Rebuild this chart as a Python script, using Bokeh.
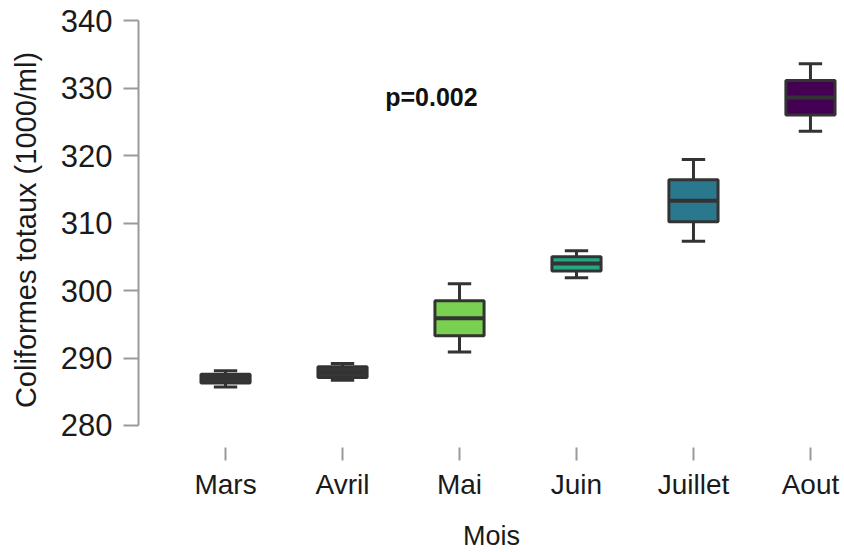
import numpy as np
from bokeh.plotting import figure
from bokeh.models import Range1d, FixedTicker, Label, ColumnDataSource
from bokeh.embed import file_html
from bokeh.resources import INLINE

# ---- data ----
months = ["Mars", "Avril", "Mai", "Juin", "Juillet", "Aout"]
vmin = [285.7, 286.7, 290.9, 301.9, 307.3, 323.6]
q1 = [286.3, 287.1, 293.3, 302.9, 310.2, 326.0]
median = [287.0, 287.9, 295.9, 304.0, 313.3, 328.6]
q3 = [287.6, 288.7, 298.5, 305.0, 316.4, 331.1]
vmax = [288.1, 289.2, 301.0, 305.9, 319.4, 333.6]
colors = ["#383838", "#383838", "#7AD151", "#22A884", "#2A788E", "#440154"]
y_ticks = [280, 290, 300, 310, 320, 330, 340]
p_text = "p=0.002"

FONT = "Liberation Sans"
EDGE = "#333333"
AXIS_GRAY = "#9a9a9a"
TEXT = "#1a1a1a"

xs = np.arange(len(months))
box_w = 0.42
cap_w = 0.2

src = ColumnDataSource(dict(
    x=xs, q1=q1, q3=q3, med=median, lo=vmin, hi=vmax, color=colors,
    bx0=xs - box_w / 2, bx1=xs + box_w / 2,
    cx0=xs - cap_w / 2, cx1=xs + cap_w / 2,
))

p = figure(frame_width=706, frame_height=435, output_backend="svg", toolbar_location=None,
           x_range=Range1d(-0.744, 5.291), y_range=Range1d(276.74, 341.19),
           min_border_left=138, min_border_right=0, min_border_top=12,
           min_border_bottom=105)
p.outline_line_color = None
p.xgrid.visible = False
p.ygrid.visible = False
p.background_fill_color = "white"

LW = 3
# whiskers
p.segment(x0="x", y0="q3", x1="x", y1="hi", source=src, line_color=EDGE, line_width=LW)
p.segment(x0="x", y0="lo", x1="x", y1="q1", source=src, line_color=EDGE, line_width=LW)
# caps
p.segment(x0="cx0", y0="hi", x1="cx1", y1="hi", source=src, line_color=EDGE, line_width=LW)
p.segment(x0="cx0", y0="lo", x1="cx1", y1="lo", source=src, line_color=EDGE, line_width=LW)
# boxes
p.vbar(x="x", width=box_w, bottom="q1", top="q3", source=src,
       fill_color="color", line_color=EDGE, line_width=LW)
# medians
p.segment(x0="bx0", y0="med", x1="bx1", y1="med", source=src, line_color=EDGE, line_width=4)

# p-value annotation
p.add_layout(Label(x=1.76, y=328.7, text=p_text, text_align="center",
                   text_baseline="middle", text_font=FONT, text_font_style="bold",
                   text_font_size="25px", text_color="#111111"))

# y axis
ya = p.yaxis[0]
ya.ticker = FixedTicker(ticks=y_ticks)
ya.bounds = (280, 340)
ya.axis_line_color = AXIS_GRAY
ya.axis_line_width = 2
ya.major_tick_line_color = AXIS_GRAY
ya.major_tick_line_width = 2
ya.major_tick_out = 15
ya.major_tick_in = 0
ya.minor_tick_line_color = None
ya.major_label_standoff = 11
ya.major_label_text_font = FONT
ya.major_label_text_font_size = "31px"
ya.major_label_text_color = TEXT
ya.axis_label = "Coliformes totaux (1000/ml)"
ya.axis_label_text_font = FONT
ya.axis_label_text_font_size = "29px"
ya.axis_label_text_font_style = "normal"
ya.axis_label_text_color = TEXT
ya.axis_label_standoff = 16

# x axis
xa = p.xaxis[0]
xa.ticker = FixedTicker(ticks=list(xs))
xa.major_label_overrides = {int(i): m for i, m in zip(xs, months)}
xa.axis_line_color = None
xa.major_tick_line_color = AXIS_GRAY
xa.major_tick_line_width = 2
xa.major_tick_out = 13
xa.major_tick_in = 0
xa.minor_tick_line_color = None
xa.major_label_standoff = 8
xa.major_label_text_font = FONT
xa.major_label_text_font_size = "28px"
xa.major_label_text_color = TEXT
xa.axis_label = "Mois"
xa.axis_label_text_font = FONT
xa.axis_label_text_font_size = "27px"
xa.axis_label_text_font_style = "normal"
xa.axis_label_text_color = TEXT
xa.axis_label_standoff = 18

open("out.html", "w").write(file_html(p, INLINE))
